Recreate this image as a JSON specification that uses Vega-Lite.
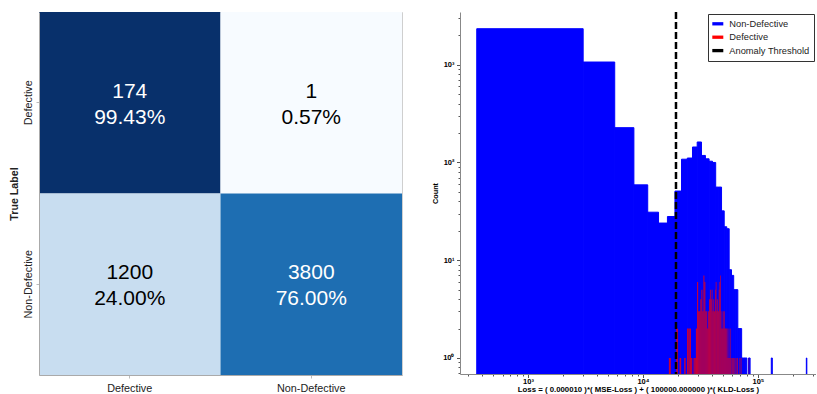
{
  "$schema": "https://vega.github.io/schema/vega-lite/v6.json",
  "background": "white",
  "padding": {"left": 7, "top": 10, "right": 0, "bottom": 0},
  "config": {
    "font": "Liberation Sans",
    "view": {"stroke": null},
    "concat": {"spacing": 28}
  },
  "resolve": {"scale": {"color": "independent"}, "legend": {"color": "independent"}},
  "datasets": {
    "matrix": [
      {"actual": "Defective", "predicted": "Defective", "count": 174, "share": 0.9943},
      {"actual": "Defective", "predicted": "Non-Defective", "count": 1, "share": 0.0057},
      {"actual": "Non-Defective", "predicted": "Defective", "count": 1200, "share": 0.24},
      {"actual": "Non-Defective", "predicted": "Non-Defective", "count": 3800, "share": 0.76}
    ],
    "hist": [
      {"series": "Non-Defective", "lo": 358, "hi": 3018, "count": 2334},
      {"series": "Non-Defective", "lo": 3018, "hi": 5678, "count": 1065},
      {"series": "Non-Defective", "lo": 5678, "hi": 8338, "count": 227},
      {"series": "Non-Defective", "lo": 8338, "hi": 10998, "count": 59},
      {"series": "Non-Defective", "lo": 10998, "hi": 13658, "count": 31},
      {"series": "Non-Defective", "lo": 13658, "hi": 16318, "count": 24},
      {"series": "Non-Defective", "lo": 16318, "hi": 18978, "count": 28},
      {"series": "Non-Defective", "lo": 18978, "hi": 21638, "count": 51},
      {"series": "Non-Defective", "lo": 21638, "hi": 24298, "count": 108},
      {"series": "Non-Defective", "lo": 24298, "hi": 26958, "count": 111},
      {"series": "Non-Defective", "lo": 26958, "hi": 29618, "count": 144},
      {"series": "Non-Defective", "lo": 29618, "hi": 32278, "count": 162},
      {"series": "Non-Defective", "lo": 32278, "hi": 34938, "count": 118},
      {"series": "Non-Defective", "lo": 34938, "hi": 37598, "count": 109},
      {"series": "Non-Defective", "lo": 37598, "hi": 40258, "count": 103},
      {"series": "Non-Defective", "lo": 40258, "hi": 42918, "count": 100},
      {"series": "Non-Defective", "lo": 42918, "hi": 45578, "count": 56},
      {"series": "Non-Defective", "lo": 45578, "hi": 48238, "count": 56},
      {"series": "Non-Defective", "lo": 48238, "hi": 50898, "count": 32},
      {"series": "Non-Defective", "lo": 50898, "hi": 53558, "count": 22},
      {"series": "Non-Defective", "lo": 53558, "hi": 56218, "count": 21},
      {"series": "Non-Defective", "lo": 56218, "hi": 58878, "count": 8},
      {"series": "Non-Defective", "lo": 58878, "hi": 61538, "count": 7},
      {"series": "Non-Defective", "lo": 61538, "hi": 64198, "count": 5},
      {"series": "Non-Defective", "lo": 64198, "hi": 66858, "count": 5},
      {"series": "Non-Defective", "lo": 66858, "hi": 69518, "count": 2},
      {"series": "Non-Defective", "lo": 69518, "hi": 72178, "count": 2},
      {"series": "Non-Defective", "lo": 72178, "hi": 74838, "count": 1},
      {"series": "Non-Defective", "lo": 74838, "hi": 77498, "count": 1},
      {"series": "Non-Defective", "lo": 77498, "hi": 80158, "count": 1},
      {"series": "Non-Defective", "lo": 82818, "hi": 85478, "count": 1},
      {"series": "Non-Defective", "lo": 130698, "hi": 133358, "count": 1},
      {"series": "Non-Defective", "lo": 263698, "hi": 266358, "count": 1},
      {"series": "Defective", "lo": 16800, "hi": 17470, "count": 1},
      {"series": "Defective", "lo": 19480, "hi": 20150, "count": 2},
      {"series": "Defective", "lo": 20820, "hi": 21490, "count": 1},
      {"series": "Defective", "lo": 22830, "hi": 23500, "count": 1},
      {"series": "Defective", "lo": 24170, "hi": 24840, "count": 2},
      {"series": "Defective", "lo": 24840, "hi": 25510, "count": 2},
      {"series": "Defective", "lo": 25510, "hi": 26180, "count": 2},
      {"series": "Defective", "lo": 26180, "hi": 26850, "count": 1},
      {"series": "Defective", "lo": 27520, "hi": 28190, "count": 1},
      {"series": "Defective", "lo": 28190, "hi": 28860, "count": 1},
      {"series": "Defective", "lo": 28860, "hi": 29530, "count": 2},
      {"series": "Defective", "lo": 29530, "hi": 30200, "count": 6},
      {"series": "Defective", "lo": 30200, "hi": 30870, "count": 3},
      {"series": "Defective", "lo": 30870, "hi": 31540, "count": 3},
      {"series": "Defective", "lo": 31540, "hi": 32210, "count": 4},
      {"series": "Defective", "lo": 32210, "hi": 32880, "count": 5},
      {"series": "Defective", "lo": 32880, "hi": 33550, "count": 3},
      {"series": "Defective", "lo": 33550, "hi": 34220, "count": 7},
      {"series": "Defective", "lo": 34220, "hi": 34890, "count": 6},
      {"series": "Defective", "lo": 34890, "hi": 35560, "count": 3},
      {"series": "Defective", "lo": 35560, "hi": 36230, "count": 3},
      {"series": "Defective", "lo": 36230, "hi": 36900, "count": 2},
      {"series": "Defective", "lo": 36900, "hi": 37570, "count": 3},
      {"series": "Defective", "lo": 37570, "hi": 38240, "count": 4},
      {"series": "Defective", "lo": 38240, "hi": 38910, "count": 5},
      {"series": "Defective", "lo": 38910, "hi": 39580, "count": 4},
      {"series": "Defective", "lo": 39580, "hi": 40250, "count": 5},
      {"series": "Defective", "lo": 40250, "hi": 40920, "count": 3},
      {"series": "Defective", "lo": 40920, "hi": 41590, "count": 4},
      {"series": "Defective", "lo": 41590, "hi": 42260, "count": 3},
      {"series": "Defective", "lo": 42260, "hi": 42930, "count": 5},
      {"series": "Defective", "lo": 42930, "hi": 43600, "count": 6},
      {"series": "Defective", "lo": 43600, "hi": 44270, "count": 3},
      {"series": "Defective", "lo": 44270, "hi": 44940, "count": 4},
      {"series": "Defective", "lo": 44940, "hi": 45610, "count": 3},
      {"series": "Defective", "lo": 45610, "hi": 46280, "count": 5},
      {"series": "Defective", "lo": 46280, "hi": 46950, "count": 6},
      {"series": "Defective", "lo": 46950, "hi": 47620, "count": 7},
      {"series": "Defective", "lo": 47620, "hi": 48290, "count": 2},
      {"series": "Defective", "lo": 48290, "hi": 48960, "count": 3},
      {"series": "Defective", "lo": 48960, "hi": 49630, "count": 2},
      {"series": "Defective", "lo": 49630, "hi": 50300, "count": 3},
      {"series": "Defective", "lo": 50300, "hi": 50970, "count": 2},
      {"series": "Defective", "lo": 50970, "hi": 51640, "count": 3},
      {"series": "Defective", "lo": 51640, "hi": 52310, "count": 2},
      {"series": "Defective", "lo": 52310, "hi": 52980, "count": 2},
      {"series": "Defective", "lo": 52980, "hi": 53650, "count": 2},
      {"series": "Defective", "lo": 53650, "hi": 54320, "count": 1},
      {"series": "Defective", "lo": 54320, "hi": 54990, "count": 2},
      {"series": "Defective", "lo": 54990, "hi": 55660, "count": 1},
      {"series": "Defective", "lo": 55660, "hi": 56330, "count": 2},
      {"series": "Defective", "lo": 56330, "hi": 57000, "count": 1},
      {"series": "Defective", "lo": 57000, "hi": 57670, "count": 1},
      {"series": "Defective", "lo": 57670, "hi": 58340, "count": 2},
      {"series": "Defective", "lo": 58340, "hi": 59010, "count": 1},
      {"series": "Defective", "lo": 59680, "hi": 60350, "count": 1},
      {"series": "Defective", "lo": 60350, "hi": 61020, "count": 1},
      {"series": "Defective", "lo": 61020, "hi": 61690, "count": 1},
      {"series": "Defective", "lo": 62360, "hi": 63030, "count": 1},
      {"series": "Defective", "lo": 63030, "hi": 63700, "count": 1},
      {"series": "Defective", "lo": 64370, "hi": 65040, "count": 1},
      {"series": "Defective", "lo": 65710, "hi": 66380, "count": 1},
      {"series": "Defective", "lo": 66380, "hi": 67050, "count": 1},
      {"series": "Defective", "lo": 68390, "hi": 69060, "count": 1},
      {"series": "Defective", "lo": 69730, "hi": 70400, "count": 1},
      {"series": "Defective", "lo": 71740, "hi": 72410, "count": 1},
      {"series": "Defective", "lo": 83130, "hi": 83800, "count": 1}
    ],
    "threshold": [{"series": "Anomaly Threshold", "loss": 19370}]
  },
  "hconcat": [
    {
      "width": 363,
      "height": 363,
      "data": {"name": "matrix"},
      "view": {"stroke": "#cfcfcf"},
      "encoding": {
        "x": {
          "field": "predicted", "type": "nominal",
          "sort": ["Defective", "Non-Defective"],
          "scale": {"paddingInner": 0, "paddingOuter": 0},
          "axis": {
            "title": "Predicted Label", "labelAngle": 0, "labelFontSize": 10.8, "labelColor": "#222",
            "tickSize": 3, "tickColor": "#bbb", "domainColor": "#aaa", "labelPadding": 4,
            "titleFontSize": 10.7, "titleFontWeight": "bold", "titlePadding": 5, "titleColor": "#222"
          }
        },
        "y": {
          "field": "actual", "type": "nominal",
          "sort": ["Defective", "Non-Defective"],
          "scale": {"paddingInner": 0, "paddingOuter": 0},
          "axis": {
            "title": "True Label", "labelAngle": -90, "labelFontSize": 10.8, "labelColor": "#222",
            "tickSize": 3, "tickColor": "#bbb", "domainColor": "#aaa", "labelPadding": 3,
            "titleFontSize": 10.7, "titleFontWeight": "bold", "titlePadding": 3, "titleColor": "#222"
          }
        }
      },
      "layer": [
        {
          "mark": {"type": "rect"},
          "encoding": {
            "color": {
              "field": "share", "type": "quantitative", "legend": null,
              "scale": {
                "domain": [0.0057, 0.129275, 0.25285, 0.376425, 0.5, 0.623575, 0.74715, 0.870725, 0.9943],
                "range": ["#f7fbff", "#deebf7", "#c6dbef", "#9ecae1", "#6baed6", "#4292c6", "#2171b5", "#08519c", "#08306b"],
                "interpolate": "rgb"
              }
            }
          }
        },
        {
          "mark": {"type": "text", "fontSize": 21, "baseline": "middle", "dy": -11},
          "encoding": {
            "text": {"field": "count", "type": "quantitative", "format": "d"},
            "color": {"condition": {"test": "datum.share > 0.5", "value": "white"}, "value": "black"}
          }
        },
        {
          "mark": {"type": "text", "fontSize": 21, "baseline": "middle", "dy": 15},
          "encoding": {
            "text": {"field": "share", "type": "quantitative", "format": ".2%"},
            "color": {"condition": {"test": "datum.share > 0.5", "value": "white"}, "value": "black"}
          }
        }
      ]
    },
    {
      "width": 356,
      "height": 362,
      "encoding": {
        "x": {
          "field": "lo", "type": "quantitative",
          "scale": {"type": "log", "domain": [256, 320000], "nice": false},
          "axis": {
            "orient": "bottom",
            "values": [300, 400, 500, 600, 700, 800, 900, 1000, 2000, 3000, 4000, 5000, 6000, 7000, 8000, 9000, 10000, 20000, 30000, 40000, 50000, 60000, 70000, 80000, 90000, 100000, 200000, 300000],
            "labelExpr": "datum.value == 1000 ? '10³' : datum.value == 10000 ? '10⁴' : datum.value == 100000 ? '10⁵' : ''",
            "tickSize": {"condition": {"test": "datum.value == 1000 || datum.value == 10000 || datum.value == 100000", "value": 3.5}, "value": 2},
            "title": "Loss = ( 0.000010 )*( MSE-Loss ) + ( 100000.000000 )*( KLD-Loss )",
            "titleFontSize": 7.8, "titleFontWeight": "bold", "titleColor": "black", "titlePadding": 0,
            "labelFontSize": 7.5, "labelFontWeight": "bold", "labelColor": "black", "labelPadding": 0,
            "labelOverlap": false, "labelFlush": false,
            "tickColor": "#555", "domainColor": "#888", "grid": false
          }
        },
        "y": {
          "field": "count", "type": "quantitative",
          "scale": {"type": "log", "domain": [0.686, 3460], "nice": false, "clamp": true},
          "axis": {
            "orient": "left",
            "values": [0.7, 0.8, 0.9, 1, 2, 3, 4, 5, 6, 7, 8, 9, 10, 20, 30, 40, 50, 60, 70, 80, 90, 100, 200, 300, 400, 500, 600, 700, 800, 900, 1000, 2000, 3000],
            "labelExpr": "datum.value == 1 ? '10⁰' : datum.value == 10 ? '10¹' : datum.value == 100 ? '10²' : datum.value == 1000 ? '10³' : ''",
            "tickSize": {"condition": {"test": "datum.value == 1 || datum.value == 10 || datum.value == 100 || datum.value == 1000", "value": 3.5}, "value": 2},
            "title": "Count",
            "titleFontSize": 7.3, "titleFontWeight": "bold", "titleColor": "black", "titlePadding": 3,
            "labelFontSize": 7.5, "labelFontWeight": "bold", "labelColor": "black", "labelPadding": 2.5,
            "labelOverlap": false, "labelFlush": false,
            "tickColor": "#555", "domainColor": "#888", "grid": false
          }
        }
      },
      "layer": [
        {
          "data": {"name": "hist"},
          "transform": [{"filter": "datum.series === 'Non-Defective'"}],
          "mark": {"type": "rect", "clip": true, "stroke": "#0000ff", "strokeWidth": 1},
          "encoding": {
            "x2": {"field": "hi"},
            "y2": {"datum": 0.1},
            "color": {
              "field": "series", "type": "nominal",
              "scale": {"domain": ["Non-Defective", "Defective", "Anomaly Threshold"], "range": ["#0000ff", "#ff0000", "#000000"]},
              "legend": {
                "title": null, "orient": "top-right", "offset": 2, "padding": 4.3,
                "strokeColor": "#333", "fillColor": "white", "cornerRadius": 0,
                "symbolType": "M-1,-0.3H1V0.3H-1Z",
                "symbolSize": 121, "symbolStrokeWidth": 0,
                "labelFontSize": 9.3, "labelColor": "#222", "labelOffset": 6, "rowPadding": 2.4,
                "encode": {
                  "symbols": {
                    "update": {
                      "shape": {"signal": "datum.value === 'Anomaly Threshold' ? 'M-1,-0.17H0.25V0.17H-1Z M0.5,-0.17H0.9V0.17H0.5Z' : 'M-1,-0.3H1V0.3H-1Z'"},
                      "size": {"value": 121},
                      "fill": {"signal": "datum.value === 'Non-Defective' ? '#0000ff' : datum.value === 'Defective' ? '#ff3838' : '#000000'"},
                      "stroke": {"value": "transparent"},
                      "strokeWidth": {"value": 0},
                      "opacity": {"value": 1},
                      "fillOpacity": {"value": 1}
                    }
                  }
                }
              }
            }
          }
        },
        {
          "data": {"name": "hist"},
          "transform": [{"filter": "datum.series === 'Defective'"}],
          "mark": {"type": "rect", "clip": true, "opacity": 0.78},
          "encoding": {
            "x2": {"field": "hi"},
            "y2": {"datum": 0.1},
            "color": {"field": "series", "type": "nominal"}
          }
        },
        {
          "data": {"name": "threshold"},
          "mark": {"type": "rule", "strokeDash": [7, 3], "strokeWidth": 2.5},
          "encoding": {
            "x": {"field": "loss", "type": "quantitative"},
            "y": null,
            "color": {"field": "series", "type": "nominal"}
          }
        }
      ]
    }
  ]
}
